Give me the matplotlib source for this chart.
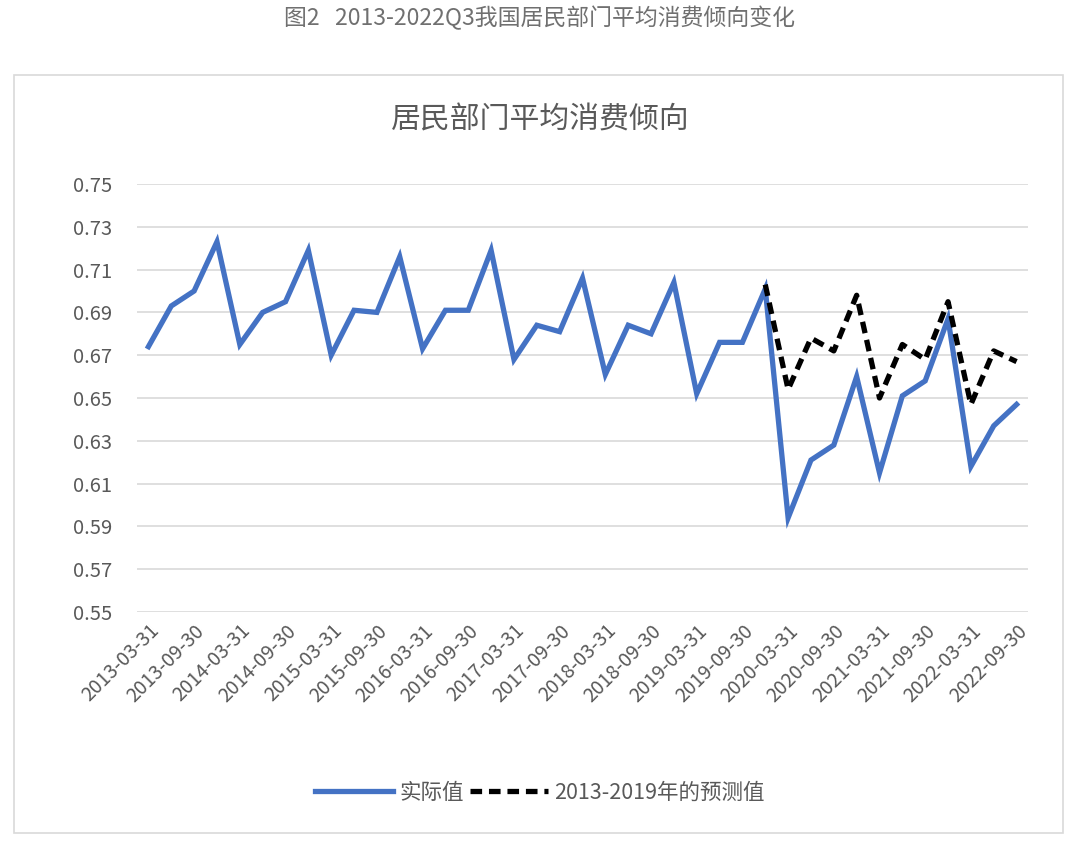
import matplotlib
matplotlib.use('Agg')
import matplotlib.pyplot as plt
from matplotlib.patches import Rectangle
import numpy as np

plt.rcParams['font.family'] = ['Noto Sans CJK SC', 'DejaVu Sans']

# quarterly dates 2013Q1 .. 2022Q3
quarters = []
for yr in range(2013, 2023):
    for md in ['03-31', '06-30', '09-30', '12-31']:
        quarters.append('%d-%s' % (yr, md))
quarters = quarters[:39]

# actual average propensity to consume
actual = [0.674, 0.693, 0.700, 0.723, 0.675, 0.690, 0.695, 0.719,
          0.670, 0.691, 0.690, 0.716, 0.673, 0.691, 0.691, 0.719,
          0.668, 0.684, 0.681, 0.706, 0.661, 0.684, 0.680, 0.704,
          0.652, 0.676, 0.676, 0.701, 0.594, 0.621, 0.628, 0.660,
          0.615, 0.651, 0.658, 0.687, 0.618, 0.637, 0.647]

# forecast from 2013-2019 trend, starting 2019-12-31
fc_start = 27
forecast = [0.703, 0.654, 0.678, 0.672, 0.698, 0.650, 0.675, 0.668,
            0.695, 0.647, 0.672, 0.667]

yticks = [0.55, 0.57, 0.59, 0.61, 0.63, 0.65, 0.67, 0.69, 0.71, 0.73, 0.75]

gray = '#595959'
blue = '#4472C4'

fig = plt.figure(figsize=(10.8, 8.58), dpi=100)

# outer caption
fig.text(0.5, 1 - 18/858, '图2   2013-2022Q3我国居民部门平均消费倾向变化',
         ha='center', va='center', fontsize=16.5, color='#707070')

# chart frame
fig.patches.append(Rectangle((14/1080, 1 - 833/858), (1063-14)/1080, (833-75)/858,
                             transform=fig.transFigure, fill=False,
                             edgecolor='#D9D9D9', linewidth=1.2))

fig.text(0.5, 1 - 120/858, '居民部门平均消费倾向', ha='center', va='center',
         fontsize=21.5, color=gray)

ax = fig.add_axes([137/1080, 1 - 612/858, (1028-137)/1080, (612-184)/858])

x = np.arange(len(actual))
ax.plot(x, actual, color=blue, linewidth=3.8, solid_joinstyle='miter',
        label='实际值')
xf = np.arange(fc_start, fc_start + len(forecast))
ax.plot(xf, forecast, color='black', linewidth=3.8, linestyle=(0, (2.2, 1.3)),
        label='2013-2019年的预测值')

ax.set_ylim(0.55, 0.75)
ax.set_xlim(-0.5, len(actual) - 0.5)
ax.set_yticks(yticks)
ax.set_yticklabels(['%.2f' % v for v in yticks], fontsize=14.5, color=gray)
ax.yaxis.grid(True, color='#D9D9D9', linewidth=1.2)
ax.set_axisbelow(True)

ax.set_xticks(x[::2])
ax.set_xticklabels(quarters[::2], rotation=45, ha='right', va='top',
                   rotation_mode='anchor', fontsize=14, color=gray)

for s in ax.spines.values():
    s.set_visible(False)
ax.tick_params(axis='both', length=0)
ax.tick_params(axis='y', pad=18)
ax.tick_params(axis='x', pad=6)

leg = fig.legend(loc='center', bbox_to_anchor=(0.5, 1 - 793/858), ncol=2,
                 frameon=False, fontsize=15.5, handlelength=3.6,
                 columnspacing=0.3, handletextpad=0.3)
for t in leg.get_texts():
    t.set_color(gray)

fig.savefig('out.png', dpi=100)
